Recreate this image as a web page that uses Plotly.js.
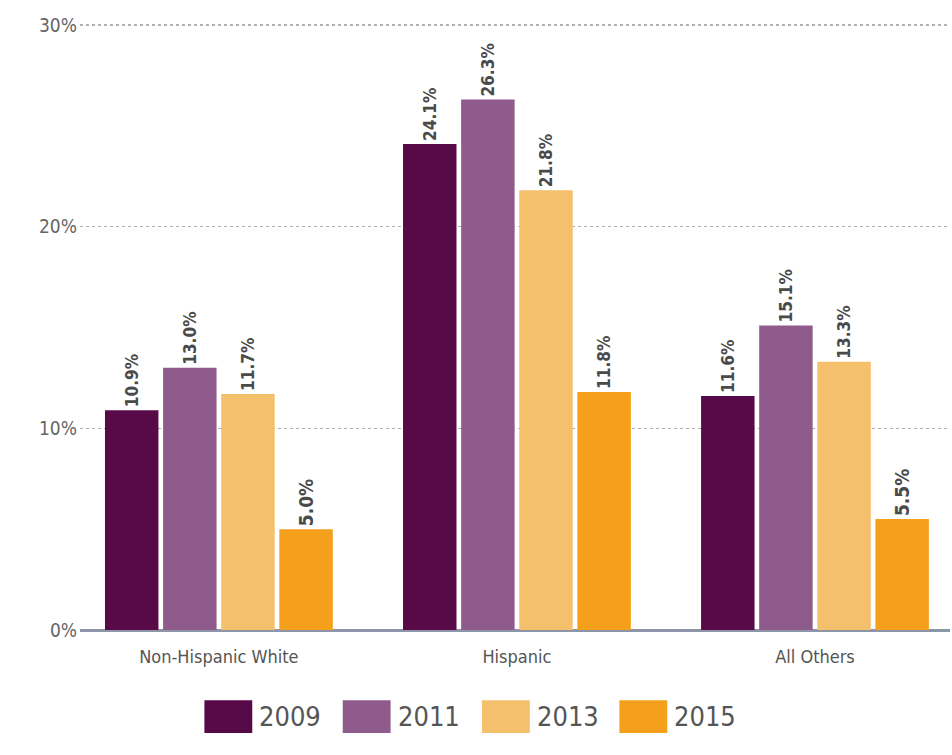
<!DOCTYPE html>
<html><head><meta charset="utf-8">
<script src="https://cdn.plot.ly/plotly-3.0.1.min.js"></script>
<style>html,body{margin:0;padding:0;background:#fff}#chart{width:952px;height:755px}</style>
</head><body><div id="chart"></div>
<script>
const categories = ["Non-Hispanic White", "Hispanic", "All Others"];
const years = ["2009", "2011", "2013", "2015"];
const v2009 = [10.9, 24.1, 11.6];
const v2011 = [13.0, 26.3, 15.1];
const v2013 = [11.7, 21.8, 13.3];
const v2015 = [5.0, 11.8, 5.5];
const colors = ["#580a48", "#8f5b8d", "#f5c06c", "#f5a01d"];
const yTicks = [0, 10, 20, 30];

const FONT = "DejaVu Sans Condensed, Liberation Sans Narrow, sans-serif";
const series = [v2009, v2011, v2013, v2015];
const traces = series.map((vals, i) => ({
  type: "bar", name: years[i], x: categories, y: vals,
  marker: {color: colors[i]},
  text: vals.map(v => v.toFixed(1) + "%"),
  textposition: "outside", textangle: -90,
  textfont: {family: FONT, size: 19, color: "#4a4a4a", weight: "bold"},
  cliponaxis: false, showlegend: false
}));

const shapes = [], annotations = [];
const legX = [0.143, 0.302, 0.462, 0.62];
years.forEach((y, i) => {
  shapes.push({type: "rect", xref: "paper", yref: "paper",
    x0: legX[i], x1: legX[i] + 0.055, y0: -0.170, y1: -0.116,
    fillcolor: colors[i], line: {width: 0}});
  annotations.push({xref: "paper", yref: "paper", x: legX[i] + 0.061, y: -0.143,
    xanchor: "left", yanchor: "middle", text: y, showarrow: false,
    font: {family: FONT, size: 27, color: "#555"}});
});

Plotly.newPlot("chart", traces, {
  width: 952, height: 755,
  margin: {l: 80, r: 2, t: 24, b: 125},
  paper_bgcolor: "#fff", plot_bgcolor: "#fff",
  barmode: "group", bargap: 0.22, bargroupgap: 0.08,
  xaxis: {range: [-0.466, 2.453], showgrid: false, showline: false, ticks: "",
    tickfont: {family: FONT, size: 18, color: "#555"}, ticklabelstandoff: 14},
  yaxis: {range: [0, 30.05], tickvals: yTicks, ticktext: yTicks.map(t => t + "%"),
    showgrid: true, gridcolor: "#b0b0b0", gridwidth: 1.5, griddash: "dot",
    zeroline: true, zerolinecolor: "#8d95a8", zerolinewidth: 3,
    showline: false, ticks: "",
    tickfont: {family: FONT, size: 19, color: "#666"}, ticklabelstandoff: 2},
  shapes: shapes, annotations: annotations
}, {displayModeBar: false, staticPlot: true});
</script></body></html>
